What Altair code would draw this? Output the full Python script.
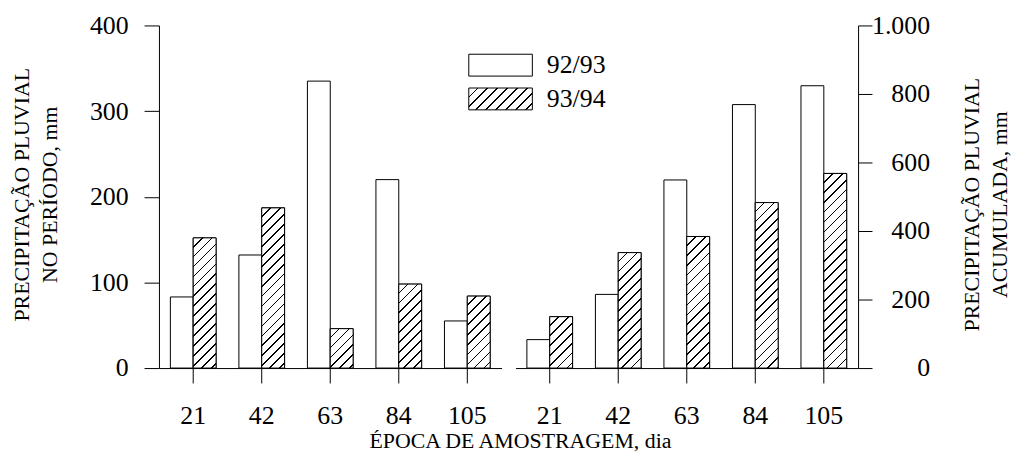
import altair as alt
import pandas as pd

# ---- data ----
DAYS = ["21", "42", "63", "84", "105"]
SERIES = ["92/93", "93/94"]
periodo_9293 = [83, 132, 335, 220, 55]
periodo_9394 = [152, 187, 46, 98, 84]
acumulada_9293 = [83, 215, 549, 769, 824]
acumulada_9394 = [150, 337, 384, 483, 568]

FONT = "Liberation Serif"
LABEL_SIZE = 26
TITLE_SIZE = 22
PLOT_W = 345
PLOT_H = 345
LEFT_MAX = 400
RIGHT_MAX = 1000
BAR_W = PLOT_W / len(DAYS) * (2 / 3) / 2  # width of one bar in px

PERIOD = 10.0   # stripe period (px along x+y)
LINE = 1.7      # stripe thickness (px along x+y)


def frame(a, b):
    rows = []
    for d, va, vb in zip(DAYS, a, b):
        rows.append({"day": d, "series": SERIES[0], "v": va})
        rows.append({"day": d, "series": SERIES[1], "v": vb})
    return pd.DataFrame(rows)


def stops(L):
    n = int(round(L / PERIOD))
    parts = []
    for k in range(n):
        s = k * PERIOD
        m = s + PERIOD - LINE
        e = s + PERIOD
        parts.append(f"{{offset:{s/L:.5f},color:'white'}}")
        parts.append(f"{{offset:{m/L:.5f},color:'white'}}")
        parts.append(f"{{offset:{m/L:.5f},color:'black'}}")
        parts.append(f"{{offset:{e/L:.5f},color:'black'}}")
    return ",".join(parts)


def bar_hatch_expr(k):
    L = 340.0
    h = f"(datum.v*{k})"
    den = f"({BAR_W*BAR_W:.4f}+{h}*{h})"
    return (f"{{gradient:'linear',x1:0,y1:0,x2:{BAR_W:.4f}*{L}/{den},"
            f"y2:{h}*{L}/{den},stops:[{stops(L)}]}}")


SW_W, SW_H = 64.0, 22.0   # legend swatch size


def legend_hatch_expr():
    w, h, L = SW_W, SW_H, 90.0
    den = w * w + h * h
    return (f"{{gradient:'linear',x1:0,y1:0,x2:{w*L/den:.5f},y2:{h*L/den:.5f},"
            f"stops:[{stops(L)}]}}")


hw = SW_W / SW_H
LEGEND = alt.Legend(
    orient="none", legendX=331, legendY=27, title=None,
    symbolType=f"M-{hw:.5f},-1H{hw:.5f}V1H-{hw:.5f}Z", symbolSize=SW_H * SW_H,
    symbolStrokeColor="black", symbolStrokeWidth=1, symbolOpacity=1,
    labelFont=FONT, labelFontSize=LABEL_SIZE, labelColor="black",
    labelOffset=33.5, rowPadding=8,
)


def panel(df, ymax, yaxis, ytitle):
    k = PLOT_H / ymax
    base = alt.Chart(df).encode(
        x=alt.X(
            "day:N", sort=DAYS, title=None,
            scale=alt.Scale(paddingInner=1 / 3, paddingOuter=1 / 6),
            axis=alt.Axis(labelAngle=0, tickSize=15, labelPadding=20,
                          labelFont=FONT, labelFontSize=LABEL_SIZE, labelColor="black",
                          domain=True, domainWidth=1, domainColor="black",
                          tickColor="black", tickWidth=1, grid=False),
        ),
        xOffset=alt.XOffset("series:N", sort=SERIES,
                            scale=alt.Scale(paddingInner=0, paddingOuter=0)),
        y=alt.Y("v:Q", title=ytitle,
                scale=alt.Scale(domain=[0, ymax], nice=False, zero=True),
                axis=yaxis),
    )
    bars = base.mark_bar(stroke="black", strokeWidth=1).encode(
        fill=alt.Fill(
            "series:N", sort=SERIES,
            scale=alt.Scale(domain=SERIES,
                            range=["white", alt.ExprRef(legend_hatch_expr())]),
            legend=LEGEND,
        )
    )
    hatch = base.transform_filter(alt.datum.series == SERIES[1]).mark_bar(
        stroke="black", strokeWidth=1, fill=alt.ExprRef(bar_hatch_expr(k))
    )
    return alt.layer(bars, hatch).properties(width=PLOT_W, height=PLOT_H)


left_axis = alt.Axis(
    orient="left", values=[0, 100, 200, 300, 400], tickSize=15, labelPadding=16,
    labelFont=FONT, labelFontSize=LABEL_SIZE, labelColor="black",
    domainColor="black", tickColor="black", grid=False,
    titleFont=FONT, titleFontSize=TITLE_SIZE, titleFontWeight="normal", titleColor="black",
    titleAngle=270, titleAlign="center", titleBaseline="top",
    titleX=-148, titleY=170, titleLineHeight=28,
)
right_axis = alt.Axis(
    orient="right", values=[0, 200, 400, 600, 800, 1000], tickSize=14,
    labelPadding=58, labelAlign="right",
    labelExpr="replace(format(datum.value, ','), ',', '.')",
    labelFont=FONT, labelFontSize=LABEL_SIZE, labelColor="black",
    domainColor="black", tickColor="black", grid=False,
    titleFont=FONT, titleFontSize=TITLE_SIZE, titleFontWeight="normal", titleColor="black",
    titleAngle=270, titleAlign="center", titleBaseline="top",
    titleX=104, titleY=180, titleLineHeight=28,
)

left = panel(frame(periodo_9293, periodo_9394), LEFT_MAX, left_axis,
             ["PRECIPITAÇÃO PLUVIAL", "NO PERÍODO, mm"])
right = panel(frame(acumulada_9293, acumulada_9394), RIGHT_MAX, right_axis,
              ["PRECIPITAÇÃO PLUVIAL", "ACUMULADA, mm"])

chart = alt.hconcat(left, right, spacing=14).properties(
    title=alt.TitleParams(
        text="ÉPOCA DE AMOSTRAGEM, dia", orient="bottom", anchor="middle",
        font=FONT, fontSize=TITLE_SIZE, fontWeight="normal", color="black",
        offset=3, dx=10,
    ),
    padding={"left": 3, "top": 3, "right": 3, "bottom": 3},
).configure_view(strokeWidth=0)

chart.save("out.html", embed_options={"renderer": "svg", "actions": False})
